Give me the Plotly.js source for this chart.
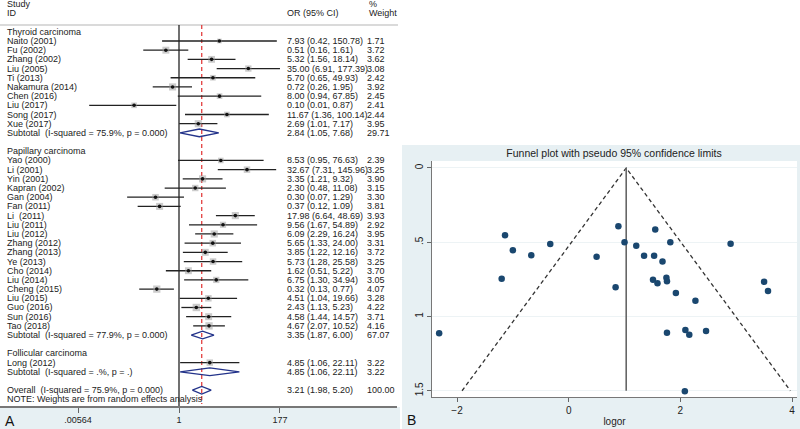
<!DOCTYPE html>
<html><head><meta charset="utf-8">
<script src="https://cdn.plot.ly/plotly-3.0.1.min.js"></script>
<style>html,body{margin:0;padding:0;background:#fff;overflow:hidden}#chart{width:800px;height:429px}</style>
</head><body><div id="chart"></div>
<script>
// ---------- Forest plot data ----------
const groupNames = ['Thyroid carcinoma', 'Papillary carcinoma', 'Follicular carcinoma'];
const studies = ['Naito (2001)','Fu (2002)','Zhang (2002)','Liu (2005)','Ti (2013)','Nakamura (2014)','Chen (2016)','Liu (2017)','Song (2017)','Xue (2017)',
  'Yao (2000)','Li (2001)','Yin (2001)','Kapran (2002)','Gan (2004)','Fan (2011)','Li  (2011)','Liu (2011)','Liu (2012)','Zhang (2012)','Zhang (2013)','Ye (2013)','Cho (2014)','Liu (2014)','Cheng (2015)','Liu (2015)','Guo (2016)','Sun (2016)','Tao (2018)',
  'Long (2012)'];
const studyGroup = [0,0,0,0,0,0,0,0,0,0, 1,1,1,1,1,1,1,1,1,1,1,1,1,1,1,1,1,1,1, 2];
const orEst  = [7.93,0.51,5.32,35.00,5.70,0.72,8.00,0.10,11.67,2.69, 8.53,32.67,3.35,2.30,0.30,0.37,17.98,9.56,6.09,5.65,3.85,5.73,1.62,6.75,0.32,4.51,2.43,4.58,4.67, 4.85];
const ciLow  = [0.42,0.16,1.56,6.91,0.65,0.26,0.94,0.01,1.36,1.01, 0.95,7.31,1.21,0.48,0.07,0.12,6.64,1.67,2.29,1.33,1.22,1.28,0.51,1.30,0.13,1.04,1.13,1.44,2.07, 1.06];
const ciHigh = [150.78,1.61,18.14,177.39,49.93,1.95,67.85,0.87,100.14,7.17, 76.63,145.96,9.32,11.08,1.29,1.09,48.69,54.89,16.24,24.00,12.16,25.58,5.22,34.94,0.77,19.66,5.23,14.57,10.52, 22.11];
const weights = [1.71,3.72,3.62,3.08,2.42,3.92,2.45,2.41,2.44,3.95, 2.39,3.25,3.90,3.15,3.30,3.81,3.93,2.92,3.95,3.31,3.72,3.25,3.70,3.05,4.07,3.28,4.22,3.71,4.16, 3.22];
const subtotalLabels = ['Subtotal  (I-squared = 75.9%, p = 0.000)','Subtotal  (I-squared = 77.9%, p = 0.000)','Subtotal  (I-squared = .%, p = .)'];
const subtotalEst = [2.84, 3.35, 4.85];
const subtotalLow = [1.05, 1.87, 1.06];
const subtotalHigh = [7.68, 6.00, 22.11];
const subtotalWeight = [29.71, 67.07, 3.22];
const overallLabel = 'Overall  (I-squared = 75.9%, p = 0.000)';
const overallEst = [3.21];
const overallLow = [1.98];
const overallHigh = [5.20];
const overallWeight = [100.00];
const noteText = 'NOTE: Weights are from random effects analysis';
const forestTickVals = [0.00564, 1, 177];
const forestTickText = ['.00564', '1', '177'];

// ---------- Funnel plot data ----------
const funnelLogOR = [-1.14,-1.00,-0.67,-0.33,0.50,0.89,1.00,1.21,1.35,1.53,1.55,1.68,1.82,2.90,
  -1.20,0.84,1.51,1.59,1.75,1.76,1.92,2.27,3.50,3.57,1.76,2.09,2.16,2.46,2.08,-2.32];
const funnelSE = [0.453,0.554,0.588,0.512,0.597,0.393,0.500,0.523,0.591,0.591,0.415,0.630,0.500,0.510,
  0.745,0.803,0.752,0.776,0.739,0.763,0.842,0.894,0.766,0.828,1.109,1.091,1.123,1.098,1.504,1.113];
const pooledLogOR = 1.03;
const funnelSEMax = 1.5;
const funnelXTicks = [-2, 0, 2, 4];
const funnelYTicks = [0, 0.5, 1, 1.5];
const funnelYTickText = ['0', '.5', '1', '1.5'];

// ---------- Layout helpers ----------
const W = 800, H = 429;
const px = v => v / W;
const py = v => 1 - v / H;
const FONT = 'Liberation Sans, Arial, Helvetica, sans-serif';
const TXT = '#222';
const NB = s => s.replace(/  /g, '\u00a0\u00a0');
const fmt = (e, l, h) => e.toFixed(2) + ' (' + l.toFixed(2) + ', ' + h.toFixed(2) + ')';

// Row assignment
const rowOfStudy = [];
const groupHeaderRow = [], subtotalRow = [];
let r = 0;
for (let g = 0; g < groupNames.length; g++) {
  groupHeaderRow.push(r); r++;
  for (let i = 0; i < studies.length; i++) if (studyGroup[i] === g) { rowOfStudy[i] = r; r++; }
  subtotalRow.push(r); r++;
  r++; // blank row
}
const overallRow = r;
const noteRow = overallRow + 1;

const annotations = [];
const addText = (x, y, text, size, extra) => annotations.push(Object.assign({
  xref: 'paper', yref: 'y', x: px(x), y: y, text: text, showarrow: false,
  xanchor: 'left', yanchor: 'middle', font: {family: FONT, size: size || 9, color: TXT}
}, extra || {}));

// headers
addText(5, -3.05, 'Study');
addText(5, -2.0, 'ID');
addText(285, -2.0, 'OR (95% CI)');
addText(367, -3.05, '%');
addText(367, -2.0, 'Weight');
for (let g = 0; g < groupNames.length; g++) {
  addText(5, groupHeaderRow[g], groupNames[g]);
  addText(5, subtotalRow[g], NB(subtotalLabels[g]));
  addText(285, subtotalRow[g], fmt(subtotalEst[g], subtotalLow[g], subtotalHigh[g]));
  addText(365, subtotalRow[g], subtotalWeight[g].toFixed(2));
}
for (let i = 0; i < studies.length; i++) {
  addText(5, rowOfStudy[i], NB(studies[i]));
  addText(285, rowOfStudy[i], fmt(orEst[i], ciLow[i], ciHigh[i]));
  addText(365, rowOfStudy[i], weights[i].toFixed(2));
}
addText(5, overallRow, NB(overallLabel));
addText(285, overallRow, fmt(overallEst[0], overallLow[0], overallHigh[0]));
addText(365, overallRow, overallWeight[0].toFixed(2));
addText(5, noteRow, noteText);
// panel letters
annotations.push({xref:'paper', yref:'paper', x: px(10), y: py(421), text: 'A', showarrow:false, xanchor:'center', yanchor:'middle', font:{family:FONT, size:14, color:'#111'}});
annotations.push({xref:'paper', yref:'paper', x: px(411), y: py(420), text: 'B', showarrow:false, xanchor:'center', yanchor:'middle', font:{family:FONT, size:14, color:'#111'}});

// ---------- Traces ----------
const traces = [];
const yTop = -0.74, yBottom = 40.72;
// null line at OR = 1
traces.push({x: [1, 1], y: [yTop, yBottom], xaxis: 'x', yaxis: 'y', mode: 'lines', line: {color: '#111', width: 1.2}, hoverinfo: 'skip'});
// overall effect dashed red line
traces.push({x: [overallEst[0], overallEst[0]], y: [yTop, 40.5], xaxis: 'x', yaxis: 'y', mode: 'lines', line: {color: '#e03030', width: 1.2, dash: '4px,3px'}, hoverinfo: 'skip'});
// CI lines
const ciX = [], ciY = [];
for (let i = 0; i < studies.length; i++) { ciX.push(ciLow[i], ciHigh[i], null); ciY.push(rowOfStudy[i], rowOfStudy[i], null); }
traces.push({x: ciX, y: ciY, xaxis: 'x', yaxis: 'y', mode: 'lines', line: {color: '#222', width: 1.3}, hoverinfo: 'skip'});
// weight boxes
traces.push({x: orEst, y: rowOfStudy, xaxis: 'x', yaxis: 'y', mode: 'markers',
  marker: {symbol: 'square', color: 'rgba(150,150,150,0.7)', size: weights.map(w => 3.6 * Math.sqrt(w)), line: {width: 0}}, hoverinfo: 'skip'});
// point estimates
traces.push({x: orEst, y: rowOfStudy, xaxis: 'x', yaxis: 'y', mode: 'markers',
  marker: {symbol: 'circle', color: '#111', size: 3.6}, hoverinfo: 'skip'});
// diamonds
const dX = [], dY = [], h = 0.42;
const addDiamond = (e, l, hi, row) => { dX.push(l, e, hi, e, l, null); dY.push(row, row - h, row, row + h, row, null); };
for (let g = 0; g < groupNames.length; g++) addDiamond(subtotalEst[g], subtotalLow[g], subtotalHigh[g], subtotalRow[g]);
addDiamond(overallEst[0], overallLow[0], overallHigh[0], overallRow);
traces.push({x: dX, y: dY, xaxis: 'x', yaxis: 'y', mode: 'lines', line: {color: '#23338a', width: 1.3}, hoverinfo: 'skip'});

// Funnel: pseudo 95% limits
traces.push({x: [pooledLogOR - 1.96 * funnelSEMax, pooledLogOR, pooledLogOR + 1.96 * funnelSEMax], y: [funnelSEMax, 0, funnelSEMax],
  xaxis: 'x2', yaxis: 'y2', mode: 'lines', line: {color: '#333', width: 1.3, dash: '4px,3px'}, hoverinfo: 'skip'});
traces.push({x: [pooledLogOR, pooledLogOR], y: [0, funnelSEMax], xaxis: 'x2', yaxis: 'y2', mode: 'lines', line: {color: '#666', width: 1.6}, hoverinfo: 'skip'});
traces.push({x: funnelLogOR, y: funnelSE, xaxis: 'x2', yaxis: 'y2', mode: 'markers', marker: {color: '#1a476f', size: 6.5}, hoverinfo: 'skip'});

// ---------- Layout ----------
const bgBlue = '#e7f0f3';
const layout = {
  width: W, height: H, margin: {l: 0, r: 0, t: 0, b: 0},
  paper_bgcolor: '#ffffff', plot_bgcolor: 'rgba(0,0,0,0)', showlegend: false,
  font: {family: FONT, size: 9, color: TXT},
  title: {text: 'Funnel plot with pseudo 95% confidence limits', x: px(614), xanchor: 'center', y: py(153), yanchor: 'middle', xref: 'paper', yref: 'paper', font: {family: FONT, size: 10.5, color: '#222'}},
  xaxis: {domain: [0, px(397)], type: 'log', range: [-179 / 44.9, (397 - 179) / 44.9], anchor: 'y',
    tickmode: 'array', tickvals: forestTickVals, ticktext: forestTickText, ticks: 'outside', ticklen: 5, tickcolor: '#666', tickwidth: 1,
    showline: true, linecolor: '#777', linewidth: 1.5, showgrid: false, zeroline: false, tickfont: {family: FONT, size: 9, color: TXT}, fixedrange: true},
  yaxis: {domain: [py(406), 1], range: [40.72, -3.461], anchor: 'x', visible: false, showgrid: false, zeroline: false, fixedrange: true},
  xaxis2: {domain: [px(432), px(797)], range: [-2.448, 4.089], anchor: 'y2', tickmode: 'array', tickvals: funnelXTicks,
    ticks: 'outside', ticklen: 4, tickcolor: '#666', showline: true, linecolor: '#777', linewidth: 1.3, showgrid: false, zeroline: false,
    tickfont: {family: FONT, size: 10, color: TXT}, title: {text: 'logor', standoff: 2, font: {family: FONT, size: 10, color: TXT}}, fixedrange: true},
  yaxis2: {domain: [py(397), py(161)], range: [1.542, -0.047], anchor: 'x2', tickmode: 'array', tickvals: funnelYTicks, ticktext: funnelYTickText,
    tickangle: -90, ticks: 'outside', ticklen: 4, tickcolor: '#666', showline: true, linecolor: '#777', linewidth: 1.3,
    showgrid: true, gridcolor: '#edf3f5', gridwidth: 1, zeroline: false, tickfont: {family: FONT, size: 10, color: TXT}, fixedrange: true},
  shapes: [
    {type: 'rect', xref: 'paper', yref: 'paper', x0: px(402), x1: 1, y0: 0, y1: py(145), fillcolor: bgBlue, line: {width: 0}, layer: 'below'},
    {type: 'rect', xref: 'paper', yref: 'paper', x0: 0, x1: px(400), y0: 0, y1: py(407), fillcolor: bgBlue, line: {width: 0}, layer: 'below'},
    {type: 'rect', xref: 'paper', yref: 'paper', x0: px(432), x1: px(797), y0: py(397), y1: py(161), fillcolor: '#ffffff', line: {width: 0}, layer: 'below'},
    {type: 'line', xref: 'paper', yref: 'y', x0: 0, x1: px(398), y0: -0.74, y1: -0.74, line: {color: '#b5b5b5', width: 1}, layer: 'below'}
  ],
  annotations: annotations
};

Plotly.newPlot('chart', traces, layout, {staticPlot: true, displayModeBar: false});
</script>
</body></html>
